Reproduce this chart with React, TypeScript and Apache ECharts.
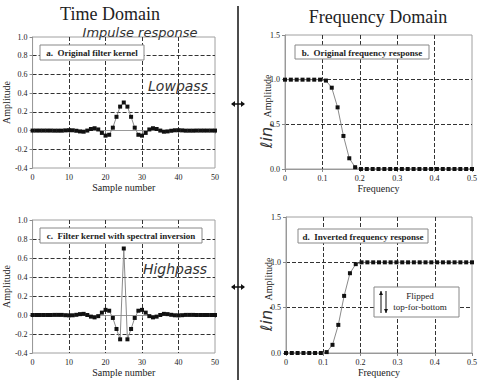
import React, { useEffect, useRef } from "react";
import * as echarts from "echarts";

// Panel a: original filter kernel (samples 0..50)
const kernelA: number[] = [
  0, 0, 0, 0, 0, 0, -0.001, -0.001, -0.001, 0.002,
  0.004, 0.003, -0.002, -0.009, -0.012, 0.0, 0.017, 0.025, 0.012, -0.025,
  -0.054, -0.045, 0.031, 0.147, 0.256, 0.3, 0.256, 0.147, 0.031, -0.045,
  -0.054, -0.025, 0.012, 0.025, 0.017, 0.0, -0.012, -0.009, -0.002, 0.003,
  0.004, 0.002, -0.001, -0.001, -0.001, 0, 0, 0, 0, 0, 0,
];
// Panel c: kernel after spectral inversion
const kernelC: number[] = [
  0, 0, 0, 0, 0, 0, 0.001, 0.001, 0.001, -0.002,
  -0.004, -0.003, 0.002, 0.009, 0.012, 0.0, -0.017, -0.025, -0.012, 0.025,
  0.054, 0.045, -0.031, -0.147, -0.256, 0.7, -0.256, -0.147, -0.031, 0.045,
  0.054, 0.025, -0.012, -0.025, -0.017, 0.0, 0.012, 0.009, 0.002, -0.003,
  -0.004, -0.002, 0.001, 0.001, 0.001, 0, 0, 0, 0, 0, 0,
];
// Panel b: original frequency response (33 samples, 0..0.5)
const respB: number[] = [
  1, 1, 1, 1, 1, 1, 1, 0.99, 0.91, 0.69, 0.37, 0.12, 0.02,
  0, 0, 0, 0, 0, 0, 0, 0, 0, 0, 0, 0, 0, 0, 0, 0, 0, 0, 0, 0,
];
// Panel d: inverted frequency response
const respD: number[] = [
  0, 0, 0, 0, 0, 0, 0, 0.01, 0.09, 0.31, 0.63, 0.88, 0.98,
  1, 1, 1, 1, 1, 1, 1, 1, 1, 1, 1, 1, 1, 1, 1, 1, 1, 1, 1, 1,
];

const sampleIdx = kernelA.map((_, i) => i);
const freqs = respB.map((_, i) => i / 64);

const panelTitles = [
  "a.  Original filter kernel",
  "b.  Original frequency response",
  "c.  Filter kernel with spectral inversion",
  "d.  Inverted frequency response",
];

const SERIF = "'Liberation Serif', 'DejaVu Serif', serif";
const HAND = "'DejaVu Sans', sans-serif";

export default function App() {
  const ref = useRef<HTMLDivElement>(null);
  useEffect(() => {
    if (!ref.current) return;
    const chart = echarts.init(ref.current, undefined, { renderer: "svg" });

    const gridStyle = { show: true, borderColor: "#a0a0a0", borderWidth: 1, backgroundColor: "#fff" };
    const axisLabel = (fmt: (v: number) => string) => ({
      fontFamily: SERIF,
      fontSize: 8,
      color: "#222",
      margin: 5,
      formatter: fmt,
    });
    const split = {
      show: true,
      showMinLine: false,
      showMaxLine: false,
      lineStyle: { color: "#333", type: [4, 2] as any, width: 1 },
    };
    const axisLine = { show: true, lineStyle: { color: "#999", width: 1 } };
    const axisTick = { show: true, length: 3, lineStyle: { color: "#888" } };
    const nameStyle = { fontFamily: SERIF, fontSize: 10, color: "#222" };

    const timeX = (gi: number) => ({
      type: "value", gridIndex: gi, min: 0, max: 50, interval: 10,
      axisLabel: axisLabel((v: number) => String(v)), splitLine: split, axisLine, axisTick,
      name: "Sample number", nameLocation: "middle", nameGap: 14, nameTextStyle: nameStyle,
    });
    const timeY = (gi: number) => ({
      type: "value", gridIndex: gi, min: -0.4, max: 1.0, interval: 0.2,
      axisLabel: axisLabel((v: number) => v.toFixed(1)), splitLine: split, axisLine, axisTick,
      name: "Amplitude", nameLocation: "middle", nameGap: 18, nameTextStyle: nameStyle,
    });
    const freqX = (gi: number) => ({
      type: "value", gridIndex: gi, min: 0, max: 0.5, interval: 0.1,
      axisLabel: axisLabel((v: number) => (v === 0 ? "0" : v.toFixed(1))), splitLine: split, axisLine, axisTick,
      name: "Frequency", nameLocation: "middle", nameGap: 14, nameTextStyle: nameStyle,
    });
    const freqY = (gi: number) => ({
      type: "value", gridIndex: gi, min: 0, max: 1.5, interval: 0.5,
      axisLabel: axisLabel((v: number) => v.toFixed(1)), splitLine: split, axisLine, axisTick,
    });

    const mkSeries = (gi: number, xs: number[], ys: number[]) => ({
      type: "line",
      xAxisIndex: gi,
      yAxisIndex: gi,
      data: xs.map((x, i) => [x, ys[i]]),
      symbol: "rect",
      symbolSize: 4,
      showSymbol: true,
      showAllSymbol: true,
      itemStyle: { color: "#111" },
      lineStyle: { color: "#8a8a8a", width: 1 },
      emphasis: { disabled: true },
    });

    const box = (x: number, y: number, w: number, h: number, label: string) => ({
      type: "group",
      children: [
        { type: "rect", shape: { x, y, width: w, height: h }, style: { fill: "#fff", stroke: "#888", lineWidth: 1 }, z: 10 },
        {
          type: "text", x: x + w / 2, y: y + h / 2 + 0.5, z: 11,
          style: { text: label, font: `bold 9px ${SERIF}`, fill: "#222", align: "center", verticalAlign: "middle" },
        },
      ],
    });

    const hand = (x: number, y: number, txt: string, size: number, rot = 0) => ({
      type: "text", x, y, rotation: rot, z: 12,
      style: { text: txt, font: `italic 300 ${size}px ${HAND}`, fill: "#333", align: "center", verticalAlign: "middle" },
    });

    const serifText = (x: number, y: number, txt: string, size: number, rot = 0) => ({
      type: "text", x, y, rotation: rot, z: 12,
      style: { text: txt, font: `${size}px ${SERIF}`, fill: "#222", align: "center", verticalAlign: "middle" },
    });

    const dblArrow = (cx: number, cy: number) => ({
      type: "group",
      children: [
        { type: "line", shape: { x1: cx - 6, y1: cy, x2: cx + 6, y2: cy }, style: { stroke: "#111", lineWidth: 1.5 } },
        { type: "polygon", shape: { points: [[cx - 7, cy], [cx - 3, cy - 3], [cx - 3, cy + 3]] }, style: { fill: "#111" } },
        { type: "polygon", shape: { points: [[cx + 7, cy], [cx + 3, cy - 3], [cx + 3, cy + 3]] }, style: { fill: "#111" } },
      ],
    });

    const vArrow = (x: number, y1: number, y2: number, up: boolean) => {
      const tip = up ? y1 : y2;
      const d = up ? 4 : -4;
      return {
        type: "group", z: 12,
        children: [
          { type: "line", z: 12, shape: { x1: x, y1, x2: x, y2 }, style: { stroke: "#111", lineWidth: 1 } },
          { type: "polygon", z: 12, shape: { points: [[x, tip], [x - 2, tip + d], [x + 2, tip + d]] }, style: { fill: "#111" } },
        ],
      };
    };

    const option: any = {
      animation: false,
      backgroundColor: "#fff",
      grid: [
        { left: 32, top: 37, width: 183, height: 131, ...gridStyle },
        { left: 285, top: 35, width: 187, height: 134, ...gridStyle },
        { left: 32, top: 220, width: 183, height: 133, ...gridStyle },
        { left: 286, top: 217, width: 186, height: 136, ...gridStyle },
      ],
      xAxis: [timeX(0), freqX(1), timeX(2), freqX(3)],
      yAxis: [timeY(0), freqY(1), timeY(2), freqY(3)],
      series: [
        mkSeries(0, sampleIdx, kernelA),
        mkSeries(1, freqs, respB),
        mkSeries(2, sampleIdx, kernelC),
        mkSeries(3, freqs, respD),
      ],
      graphic: [
        serifText(110, 14, "Time Domain", 18),
        serifText(378, 17, "Frequency Domain", 18),
        hand(140, 32, "Impulse response", 13),
        hand(178, 86, "Lowpass", 14),
        hand(175, 269, "Highpass", 14),
        { type: "line", shape: { x1: 238, y1: 6, x2: 238, y2: 380 }, style: { stroke: "#111", lineWidth: 1.5 } },
        dblArrow(238, 104),
        dblArrow(238, 287),
        box(40, 45, 104, 15, panelTitles[0]),
        box(295, 45, 134, 14, panelTitles[1]),
        box(40, 228, 162, 15, panelTitles[2]),
        box(298, 229, 130, 14, panelTitles[3]),
        serifText(267, 96, "Amplitude", 10, Math.PI / 2),
        hand(266, 135, "ℓin,", 16, Math.PI / 2),
        serifText(268, 279, "Amplitude", 10, Math.PI / 2),
        hand(266, 318, "ℓin.", 16, Math.PI / 2),
        {
          type: "rect", z: 10, shape: { x: 374, y: 287, width: 85, height: 30 },
          style: { fill: "#fff", stroke: "#888", lineWidth: 1 },
        },
        vArrow(381, 291, 313, true),
        vArrow(386, 291, 313, false),
        serifText(420, 296, "Flipped", 9),
        serifText(420, 307, "top-for-bottom", 9),
      ],
    };
    chart.setOption(option);
    return () => chart.dispose();
  }, []);
  return (
    <div
      ref={ref}
      style={{ position: "absolute", left: 0, top: 0, width: 488, height: 380, background: "#fff" }}
    />
  );
}
